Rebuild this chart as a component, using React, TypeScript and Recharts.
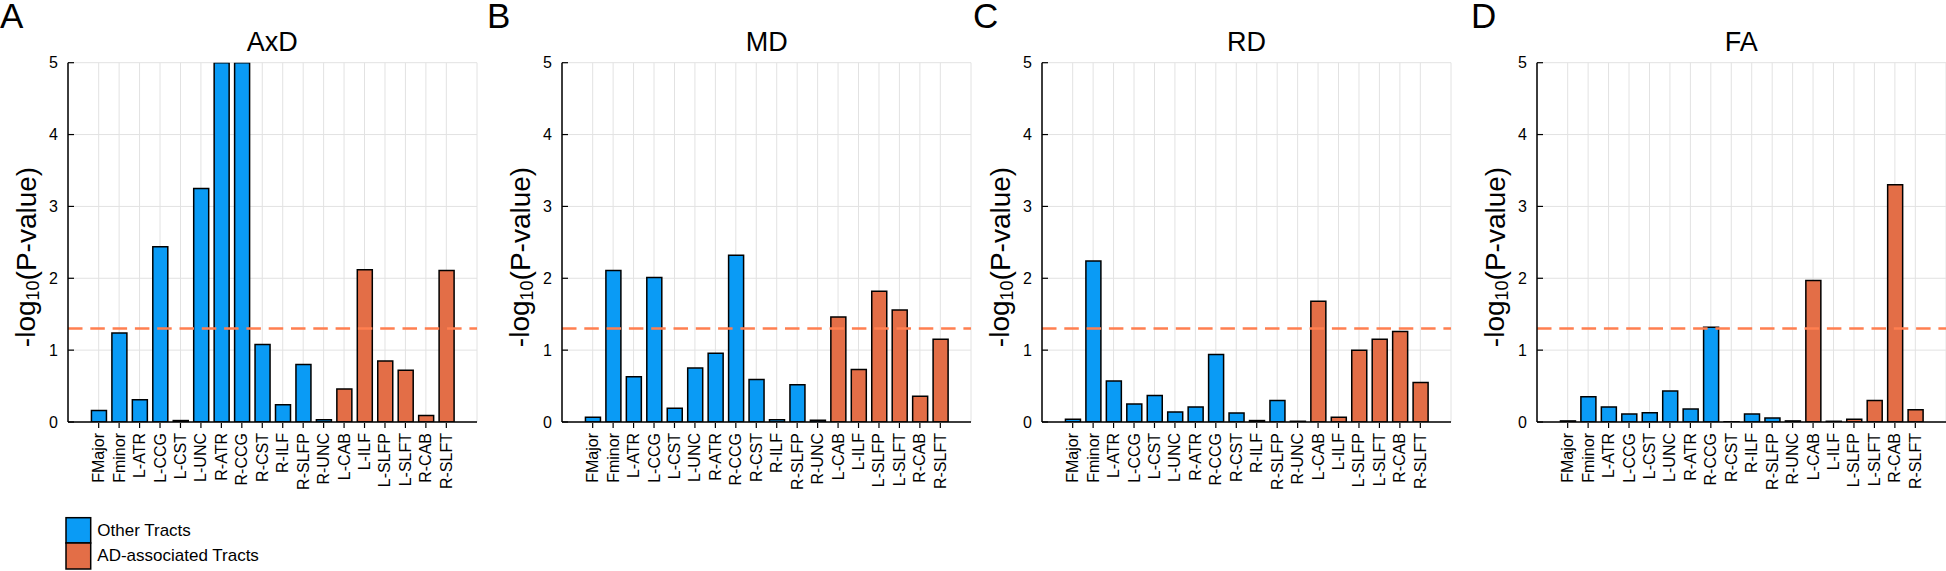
import React from 'react';
import { BarChart, Bar, Cell, XAxis, YAxis, CartesianGrid, ReferenceLine } from 'recharts';

// tract names, left-to-right as in every panel
const tracts = [
  'FMajor', 'Fminor', 'L-ATR', 'L-CCG', 'L-CST', 'L-UNC', 'R-ATR', 'R-CCG', 'R-CST',
  'R-ILF', 'R-SLFP', 'R-UNC', 'L-CAB', 'L-ILF', 'L-SLFP', 'L-SLFT', 'R-CAB', 'R-SLFT',
];
// last six are the AD-associated tracts
const adAssociated = [
  false, false, false, false, false, false, false, false, false,
  false, false, false, true, true, true, true, true, true,
];

const axdValues = [0.16, 1.24, 0.31, 2.44, 0.02, 3.25, 5, 5, 1.08, 0.24, 0.8, 0.03, 0.46, 2.12, 0.85, 0.72, 0.09, 2.11];
const mdValues = [0.065, 2.11, 0.63, 2.01, 0.19, 0.75, 0.955, 2.32, 0.59, 0.03, 0.52, 0.025, 1.46, 0.73, 1.82, 1.56, 0.36, 1.15];
const rdValues = [0.04, 2.24, 0.57, 0.25, 0.37, 0.14, 0.21, 0.94, 0.125, 0.02, 0.3, 0.01, 1.68, 0.065, 1.0, 1.15, 1.26, 0.55];
const faValues = [0.015, 0.35, 0.21, 0.11, 0.13, 0.43, 0.18, 1.32, 0.005, 0.11, 0.055, 0.015, 1.97, 0.01, 0.04, 0.3, 3.3, 0.17];

const yTicks = [0, 1, 2, 3, 4, 5];
const threshold = 1.301; // -log10(0.05)

const BLUE = '#0A9BF5';
const ORANGE = '#E36E47';
const FONT = '"Liberation Sans", Arial, Helvetica, sans-serif';

const AXIS_W = 68;
const PLOT_W = 409;

const TractTick = (props: any) => {
  const { x, y, payload } = props;
  return (
    <g>
      <line x1={x} x2={x} y1={y - 5} y2={y - 10} stroke="#000" strokeWidth={1.2} />
      <text
        x={x}
        y={y}
        transform={`rotate(-90, ${x}, ${y})`}
        textAnchor="end"
        dominantBaseline="central"
        fontSize={16}
        fontFamily={FONT}
        fill="#000"
      >
        {payload.value}
      </text>
    </g>
  );
};

const ValueTick = (props: any) => {
  const { x, y, payload } = props;
  return (
    <g>
      <line x1={x + 10} x2={x + 16} y1={y} y2={y} stroke="#000" strokeWidth={1.2} />
      <text x={x} y={y} textAnchor="end" dominantBaseline="central" fontSize={16} fontFamily={FONT} fill="#000">
        {payload.value}
      </text>
    </g>
  );
};

const YLabel = (props: any) => {
  const { viewBox } = props;
  const cx = viewBox.x + viewBox.width - 42.5;
  const cy = 257;
  return (
    <text
      x={cx}
      y={cy}
      transform={`rotate(-90, ${cx}, ${cy})`}
      textAnchor="middle"
      dominantBaseline="central"
      fontSize={28}
      fontFamily={FONT}
      fill="#000"
    >
      -log
      <tspan fontSize={18} dy={7}>10</tspan>
      <tspan dy={-7}>(P-value)</tspan>
    </text>
  );
};

interface PanelProps {
  plotLeft: number;
  values: number[];
}

const Panel: React.FC<PanelProps> = ({ plotLeft, values }) => {
  const data = tracts.map((name, i) => ({ name, value: values[i] }));
  return (
    <div style={{ position: 'absolute', left: plotLeft - AXIS_W, top: 0 }}>
      <BarChart
        width={AXIS_W + PLOT_W + 2}
        height={571}
        data={data}
        margin={{ top: 62.7, right: 2, left: 0, bottom: 0 }}
      >
        <CartesianGrid stroke="#e2e2e2" strokeWidth={1} />
        <XAxis
          dataKey="name"
          interval={0}
          height={149}
          padding={{ left: PLOT_W / 20, right: PLOT_W / 20 }}
          tick={<TractTick />}
          tickLine={false}
          tickSize={0}
          tickMargin={11}
          axisLine={{ stroke: '#000', strokeWidth: 1.5 }}
        />
        <YAxis
          width={AXIS_W}
          domain={[0, 5]}
          ticks={yTicks}
          allowDataOverflow
          tick={<ValueTick />}
          tickLine={false}
          tickMargin={4}
          axisLine={{ stroke: '#000', strokeWidth: 1.5 }}
          label={<YLabel />}
        />
        <Bar dataKey="value" barSize={15} stroke="#000" strokeWidth={1.5} isAnimationActive={false}>
          {data.map((d, i) => (
            <Cell key={d.name} fill={adAssociated[i] ? ORANGE : BLUE} />
          ))}
        </Bar>
        <ReferenceLine y={threshold} stroke="#FF7F50" strokeWidth={2.3} strokeDasharray="14.5 7.8" />
      </BarChart>
    </div>
  );
};

const panels = [
  { letter: 'A', letterX: 0, title: 'AxD', plotLeft: 67.7, values: axdValues },
  { letter: 'B', letterX: 487, title: 'MD', plotLeft: 562.3, values: mdValues },
  { letter: 'C', letterX: 973, title: 'RD', plotLeft: 1042, values: rdValues },
  { letter: 'D', letterX: 1471, title: 'FA', plotLeft: 1536.7, values: faValues },
];

const App: React.FC = () => {
  return (
    <div
      style={{
        position: 'absolute',
        left: 0,
        top: 0,
        width: 1946,
        height: 571,
        overflow: 'hidden',
        background: '#fff',
        fontFamily: FONT,
      }}
    >
      {panels.map((p) => (
        <Panel key={p.letter} plotLeft={p.plotLeft} values={p.values} />
      ))}
      <svg width={1946} height={571} style={{ position: 'absolute', left: 0, top: 0, pointerEvents: 'none' }}>
        {panels.map((p) => (
          <g key={p.letter}>
            <text x={p.letterX} y={27.5} fontSize={35} fontFamily={FONT} fill="#000">
              {p.letter}
            </text>
            <text x={p.plotLeft + PLOT_W / 2} y={50.7} fontSize={27} fontFamily={FONT} fill="#000" textAnchor="middle">
              {p.title}
            </text>
          </g>
        ))}
        <rect x={66} y={517.7} width={24.7} height={25.3} fill={BLUE} stroke="#000" strokeWidth={1.5} />
        <rect x={66} y={543} width={24.7} height={26} fill={ORANGE} stroke="#000" strokeWidth={1.5} />
        <text x={97.3} y={535.7} fontSize={17} fontFamily={FONT} fill="#000">Other Tracts</text>
        <text x={97.3} y={561} fontSize={17} fontFamily={FONT} fill="#000">AD-associated Tracts</text>
      </svg>
    </div>
  );
};

export default App;
